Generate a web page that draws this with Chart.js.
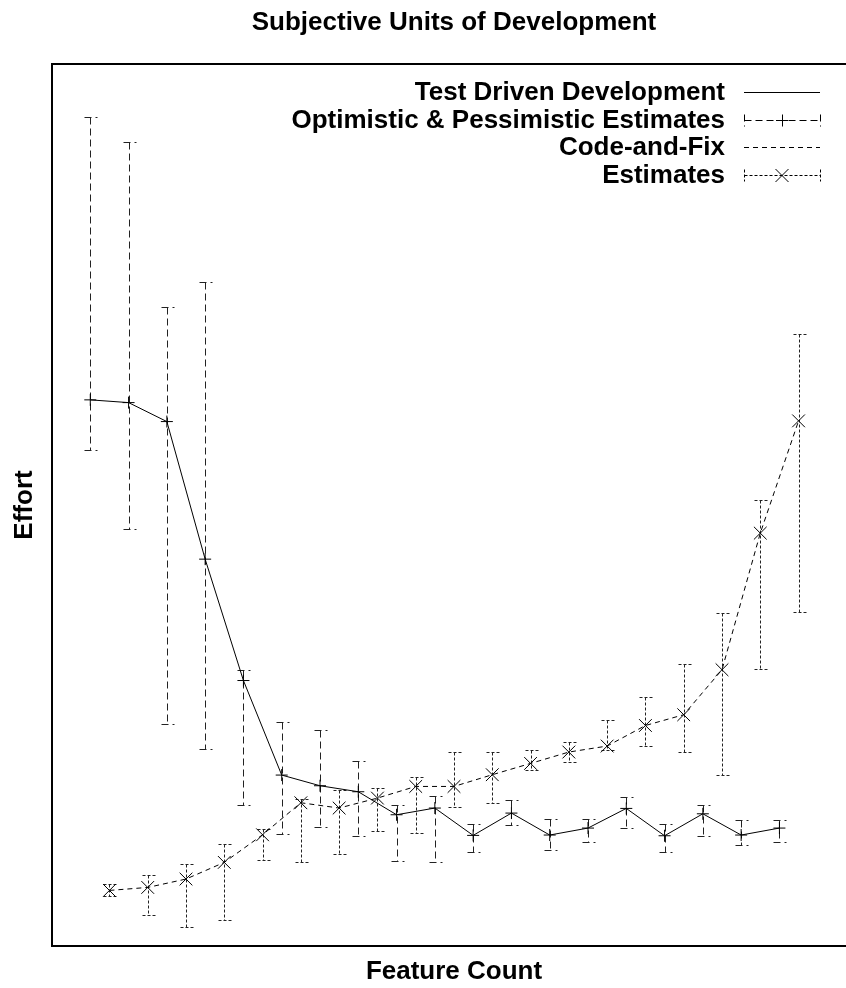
<!DOCTYPE html>
<html><head><meta charset="utf-8">
<script src="https://cdn.jsdelivr.net/npm/chart.js@4.4.1/dist/chart.umd.min.js"></script>
<style>html,body{margin:0;padding:0;overflow:hidden;background:#fff}canvas{display:block}</style>
</head><body>
<canvas id="c" width="866" height="988"></canvas>
<script>
const chartTitle = 'Subjective Units of Development';
const xTitle = 'Feature Count';
const yTitle = 'Effort';
const seriesLabels = ['Test Driven Development', 'Optimistic & Pessimistic Estimates', 'Code-and-Fix', 'Estimates'];

const tddX = [1, 2, 3, 4, 5, 6, 7, 8, 9, 10, 11, 12, 13, 14, 15, 16, 17, 18, 19];
const tddEffort = [61.92, 61.61, 59.46, 43.86, 30.10, 19.38, 18.17, 17.49, 14.88, 15.64, 12.54, 15.07, 12.58, 13.37, 15.60, 12.50, 14.99, 12.58, 13.37];
const tddPessimistic = [93.96, 91.13, 72.49, 75.33, 31.32, 25.39, 24.48, 21.00, 16.01, 16.96, 13.86, 16.50, 14.39, 14.39, 16.89, 13.86, 15.94, 14.31, 14.31];
const tddOptimistic = [56.25, 47.30, 25.20, 22.33, 16.01, 12.73, 13.52, 12.50, 9.67, 9.48, 10.65, 13.71, 10.84, 11.74, 13.33, 10.69, 12.42, 11.45, 11.74];

const cafX = [1.5, 2.5, 3.5, 4.5, 5.5, 6.5, 7.5, 8.5, 9.5, 10.5, 11.5, 12.5, 13.5, 14.5, 15.5, 16.5, 17.5, 18.5, 19.5];
const cafEffort = [6.30, 6.64, 7.59, 9.48, 12.61, 16.24, 15.64, 16.77, 18.09, 18.09, 19.42, 20.70, 21.99, 22.67, 25.00, 26.22, 31.32, 46.81, 59.54];
const cafHigh = [7.06, 8.00, 9.33, 11.59, 13.26, 16.69, 17.64, 17.91, 19.11, 21.99, 21.99, 22.17, 23.08, 25.65, 28.18, 31.96, 37.78, 50.58, 69.36];
const cafLow = [5.62, 3.55, 2.15, 2.90, 9.78, 9.55, 10.43, 13.07, 12.81, 15.75, 16.24, 19.95, 20.81, 22.25, 22.62, 21.94, 19.34, 31.43, 37.92];

const FONT = 'bold 26px "Liberation Sans", Arial, sans-serif';

const toPts = (xs, ys) => xs.map((v, i) => ({x: v, y: ys[i]}));

const errorBars = {
  id: 'errorBars',
  beforeDatasetsDraw(chart) {
    const {ctx, scales: {x, y}} = chart;
    chart.data.datasets.forEach(ds => {
      if (!ds.errLow) return;
      ctx.save();
      ctx.strokeStyle = ds.errColor || '#000';
      ctx.lineWidth = 1;
      ctx.setLineDash(ds.errDash);
      ds.data.forEach((p, j) => {
        const px = Math.round(x.getPixelForValue(p.x)) + 0.5;
        const yh = Math.round(y.getPixelForValue(ds.errHigh[j])) + 0.5;
        const yl = Math.round(y.getPixelForValue(ds.errLow[j])) + 0.5;
        ctx.beginPath();
        ctx.moveTo(px, yh); ctx.lineTo(px, yl);
        ctx.moveTo(px - 6, yh); ctx.lineTo(px + 7, yh);
        ctx.moveTo(px - 6, yl); ctx.lineTo(px + 7, yl);
        ctx.stroke();
      });
      ctx.restore();
    });
  }
};

const decor = {
  id: 'decor',
  afterDraw(chart) {
    const {ctx, chartArea: a} = chart;
    ctx.save();
    ctx.strokeStyle = '#000';
    ctx.lineWidth = 2;
    ctx.setLineDash([]);
    ctx.strokeRect(a.left, a.top, a.right - a.left, a.bottom - a.top);
    ctx.fillStyle = '#000';
    ctx.font = FONT;
    ctx.textAlign = 'center';
    ctx.textBaseline = 'middle';
    const cx = (a.left + a.right) / 2;
    ctx.fillText(chartTitle, cx, 23);
    ctx.fillText(xTitle, cx, 972);
    ctx.save();
    ctx.translate(25, (a.top + a.bottom) / 2);
    ctx.rotate(-Math.PI / 2);
    ctx.fillText(yTitle, 0, 0);
    ctx.restore();

    // legend
    const ds = chart.data.datasets;
    const textRight = 725, s0 = 744, s1 = 820, sm = 782;
    ctx.lineWidth = 1;
    ds.forEach((d, i) => {
      const ly = Math.round(92 + 27.5 * i) + 0.5;
      ctx.setLineDash([]);
      ctx.textAlign = 'right';
      ctx.fillText(d.label, textRight, ly);
      ctx.beginPath();
      if (d.errLow) {
        ctx.setLineDash(d.errDash);
        ctx.moveTo(s0 + 0.5, ly); ctx.lineTo(s1 + 0.5, ly);
        ctx.moveTo(s0 + 0.5, ly - 6); ctx.lineTo(s0 + 0.5, ly + 6);
        ctx.moveTo(s1 + 0.5, ly - 6); ctx.lineTo(s1 + 0.5, ly + 6);
        ctx.stroke();
        ctx.setLineDash([]);
        ctx.beginPath();
        if (d.pointStyle === 'cross') {
          ctx.moveTo(sm - 6, ly); ctx.lineTo(sm + 6, ly);
          ctx.moveTo(sm + 0.5, ly - 6); ctx.lineTo(sm + 0.5, ly + 6);
        } else {
          ctx.moveTo(sm - 6.5, ly - 6.5); ctx.lineTo(sm + 6.5, ly + 6.5);
          ctx.moveTo(sm + 6.5, ly - 6.5); ctx.lineTo(sm - 6.5, ly + 6.5);
        }
        ctx.stroke();
      } else {
        ctx.setLineDash(d.borderDash || []);
        ctx.moveTo(s0, ly); ctx.lineTo(s1, ly);
        ctx.stroke();
      }
    });
    ctx.restore();
  }
};

new Chart(document.getElementById('c'), {
  type: 'scatter',
  data: {
    datasets: [
      {label: seriesLabels[0], data: toPts(tddX, tddEffort), showLine: true, borderColor: '#000', borderWidth: 1, pointRadius: 0, tension: 0},
      {label: seriesLabels[1], data: toPts(tddX, tddEffort), showLine: false, pointStyle: 'cross', pointRadius: 6, pointBorderColor: '#000', pointBorderWidth: 1,
       errLow: tddOptimistic, errHigh: tddPessimistic, errDash: [7, 4], errColor: '#222'},
      {label: seriesLabels[2], data: toPts(cafX, cafEffort), showLine: true, borderColor: '#000', borderWidth: 1, borderDash: [5, 4], pointRadius: 0, tension: 0},
      {label: seriesLabels[3], data: toPts(cafX, cafEffort), showLine: false, pointStyle: 'crossRot', pointRadius: 9, pointBorderColor: '#000', pointBorderWidth: 1,
       errLow: cafLow, errHigh: cafHigh, errDash: [3, 2], errColor: '#222'}
    ]
  },
  options: {
    responsive: false,
    animation: false,
    devicePixelRatio: 1,
    layout: {padding: {left: 52, top: 64, right: 10, bottom: 42}},
    scales: {
      x: {type: 'linear', min: 0, max: 21, display: false},
      y: {type: 'linear', min: 0, max: 100, display: false}
    },
    plugins: {legend: {display: false}, tooltip: {enabled: false}, title: {display: false}}
  },
  plugins: [errorBars, decor]
});
</script>
</body></html>
